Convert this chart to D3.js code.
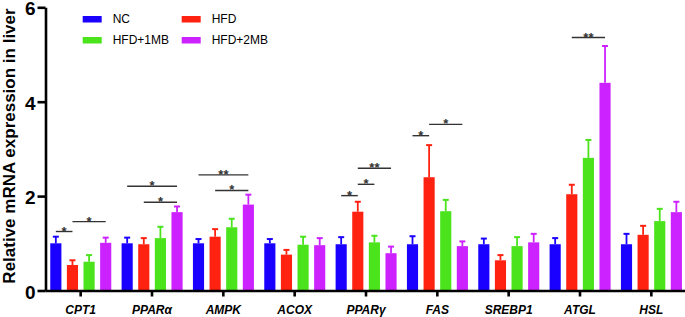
<!DOCTYPE html>
<html>
<head>
<meta charset="UTF-8">
<style>
body { margin: 0; background: #fff; }
svg { font-family: Arial, "Liberation Sans", sans-serif; }
.axis path, .axis line { stroke: #000; stroke-width: 2.6px; }
.axis--y text { font-size: 19px; font-weight: bold; fill: #000; }
.axis--x text { font-size: 12px; font-weight: bold; font-style: italic; fill: #000; }
.sig line { stroke: #333; stroke-width: 1.4px; }
.sig text { font-size: 13px; font-weight: bold; fill: #333; }
</style>
</head>
<body>
<svg width="685" height="317"></svg>
<script src="https://d3js.org/d3.v7.min.js"></script>
<script>
// genes on the x axis
var genes = ["CPT1", "PPARα", "AMPK", "ACOX", "PPARγ", "FAS", "SREBP1", "ATGL", "HSL"];
var groups = ["NC", "HFD", "HFD+1MB", "HFD+2MB"];
var colors = ["#1a00ff", "#ff2211", "#4ae31c", "#cc22ff"];

// mean values, one array per group (same order as genes)
var NC      = [1.00, 1.00, 1.00, 1.00, 0.98, 0.98, 0.98, 0.98, 0.98];
var HFD     = [0.54, 0.98, 1.14, 0.76, 1.67, 2.40, 0.64, 2.04, 1.18];
var HFD1MB  = [0.61, 1.11, 1.34, 0.97, 1.02, 1.68, 0.94, 2.81, 1.47];
var HFD2MB  = [1.01, 1.66, 1.82, 0.96, 0.79, 0.94, 1.02, 4.40, 1.66];
// error bars (upper only)
var NC_sd     = [0.14, 0.12, 0.09, 0.09, 0.15, 0.17, 0.12, 0.13, 0.22];
var HFD_sd    = [0.10, 0.13, 0.16, 0.10, 0.21, 0.68, 0.11, 0.20, 0.19];
var HFD1MB_sd = [0.14, 0.24, 0.18, 0.17, 0.14, 0.24, 0.19, 0.38, 0.26];
var HFD2MB_sd = [0.11, 0.12, 0.21, 0.15, 0.14, 0.10, 0.18, 0.78, 0.22];

// significance marks: gene, from group, to group, height, label
var sigGene  = ["CPT1", "CPT1", "PPARα", "PPARα", "AMPK", "AMPK", "PPARγ", "PPARγ", "PPARγ", "FAS", "FAS", "ATGL"];
var sigFrom  = [0, 1, 0, 1, 0, 1, 0, 1, 1, 0, 1, 1];
var sigTo    = [1, 3, 3, 3, 3, 3, 1, 2, 3, 1, 3, 3];
var sigY     = [1.25, 1.46, 2.21, 1.87, 2.45, 2.12, 2.01, 2.25, 2.59, 3.28, 3.52, 5.36];
var sigLabel = ["*", "*", "*", "*", "**", "*", "*", "*", "**", "*", "*", "**"];

var means = [NC, HFD, HFD1MB, HFD2MB];
var sds = [NC_sd, HFD_sd, HFD1MB_sd, HFD2MB_sd];

var svg = d3.select("svg");

var x0 = d3.scaleBand().domain(genes).range([45, 687]);
var x1 = d3.scaleBand().domain(d3.range(groups.length)).range([-30.4, 30.6]).paddingInner(0.33);
var y = d3.scaleLinear().domain([0, 6]).range([290.5, 7.3]);

function cx(gene, i) { return x0(gene) + x0.bandwidth() / 2 + x1(i) + x1.bandwidth() / 2; }

var rows = [];
genes.forEach(function(g, gi) {
  groups.forEach(function(s, si) {
    rows.push({gene: g, s: si, v: means[si][gi], e: sds[si][gi]});
  });
});

// bars
svg.append("g").selectAll("rect")
  .data(rows)
  .enter().append("rect")
    .attr("x", function(d) { return cx(d.gene, d.s) - x1.bandwidth() / 2; })
    .attr("y", function(d) { return y(d.v); })
    .attr("width", x1.bandwidth())
    .attr("height", function(d) { return y(0) - y(d.v); })
    .attr("fill", function(d) { return colors[d.s]; });

// error bars
var err = svg.append("g").selectAll("g")
  .data(rows)
  .enter().append("g")
    .attr("stroke", function(d) { return colors[d.s]; })
    .attr("stroke-width", 1.8);
err.append("line")
    .attr("x1", function(d) { return cx(d.gene, d.s); })
    .attr("x2", function(d) { return cx(d.gene, d.s); })
    .attr("y1", function(d) { return y(d.v); })
    .attr("y2", function(d) { return y(d.v + d.e); });
err.append("line")
    .attr("x1", function(d) { return cx(d.gene, d.s) - 3; })
    .attr("x2", function(d) { return cx(d.gene, d.s) + 3; })
    .attr("y1", function(d) { return y(d.v + d.e); })
    .attr("y2", function(d) { return y(d.v + d.e); })
    .attr("stroke-width", 2);

// significance
var sig = svg.append("g").attr("class", "sig").selectAll("g")
  .data(d3.range(sigGene.length))
  .enter().append("g");
sig.append("line")
    .attr("x1", function(i) { return cx(sigGene[i], sigFrom[i]); })
    .attr("x2", function(i) { return cx(sigGene[i], sigTo[i]); })
    .attr("y1", function(i) { return y(sigY[i]); })
    .attr("y2", function(i) { return y(sigY[i]); });
sig.append("text")
    .attr("text-anchor", "middle")
    .attr("x", function(i) { return (cx(sigGene[i], sigFrom[i]) + cx(sigGene[i], sigTo[i])) / 2; })
    .attr("y", function(i) { return y(sigY[i]) + 4; })
    .text(function(i) { return sigLabel[i]; });

// axes
svg.append("g")
    .attr("class", "axis axis--x")
    .attr("transform", "translate(0," + y(0) + ")")
    .call(d3.axisBottom(x0).tickSize(6).tickSizeOuter(0).tickPadding(9));

svg.append("g")
    .attr("class", "axis axis--y")
    .attr("transform", "translate(45.5,0)")
    .call(d3.axisLeft(y).tickValues([0, 2, 4, 6]).tickFormat(d3.format("d")).tickSize(8).tickSizeOuter(0).tickPadding(2))
  .selectAll("text")
    .attr("dy", "0.4em");

svg.append("text")
    .attr("transform", "translate(15,146) rotate(-90)")
    .attr("text-anchor", "middle")
    .style("font-size", "17px")
    .style("font-weight", "bold")
    .text("Relative mRNA expression in liver");

// legend
var legend = svg.append("g").selectAll("g")
  .data(groups)
  .enter().append("g")
    .attr("transform", function(d, i) { return "translate(" + (82.7 + (i % 2) * 99) + "," + (19 + Math.floor(i / 2) * 21) + ")"; });
legend.append("rect")
    .attr("y", -3)
    .attr("width", 19)
    .attr("height", 6.5)
    .attr("fill", function(d, i) { return colors[i]; });
legend.append("text")
    .attr("x", 30)
    .attr("dy", "0.36em")
    .style("font-size", "12px")
    .text(function(d) { return d; });
</script>
</body>
</html>
